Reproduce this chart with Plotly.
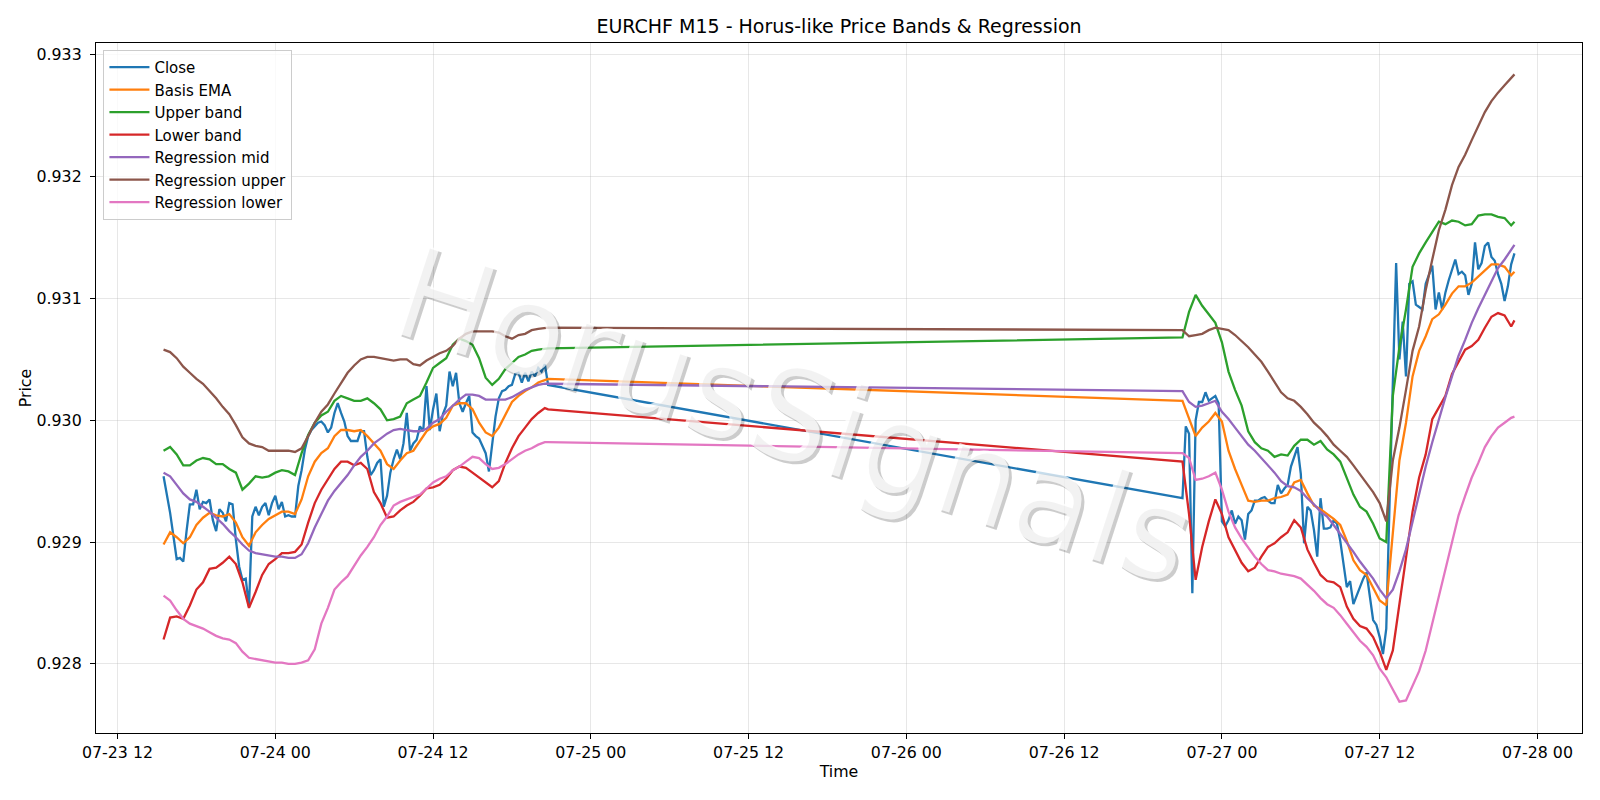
import pandas as pd
import plotly.graph_objects as go

# ---------------- data ----------------
S1_START = "2020-07-23 15:30"   # Thursday/Friday session (M15 bars)
S2_START = "2020-07-26 21:00"   # Sunday/Monday session (M15 bars)

close_s1 = [
    0.92954, 0.92940, 0.92924, 0.92905, 0.92886, 0.92887, 0.92884, 0.92909, 0.92931, 0.92931,
    0.92943, 0.92927, 0.92933, 0.92932, 0.92935, 0.92918, 0.92909, 0.92927, 0.92924, 0.92917,
    0.92932, 0.92931, 0.92902, 0.92880, 0.92869, 0.92870, 0.92847, 0.92921, 0.92929, 0.92922,
    0.92929, 0.92932, 0.92922, 0.92932, 0.92938, 0.92927, 0.92933, 0.92921, 0.92922, 0.92921,
    0.92921, 0.92946, 0.92959, 0.92976, 0.92987, 0.92992, 0.92995, 0.92998, 0.92999, 0.92996,
    0.92990, 0.92994, 0.93006, 0.93014, 0.93006, 0.92999, 0.92987, 0.92983, 0.92983, 0.92983,
    0.92991, 0.92991, 0.92970, 0.92955, 0.92959, 0.92965, 0.92968, 0.92929, 0.92938, 0.92957,
    0.92968, 0.92976, 0.92968, 0.92981, 0.93006, 0.92975, 0.92981, 0.92984, 0.92995, 0.92991,
    0.93028, 0.92992, 0.93009, 0.93022, 0.92991, 0.93005, 0.93012, 0.93040, 0.93028, 0.93039,
    0.93014, 0.93007, 0.93014, 0.93020, 0.92990, 0.92987, 0.92985, 0.92979, 0.92973, 0.92958,
    0.92981, 0.93003, 0.93018, 0.93024, 0.93025, 0.93028, 0.93029, 0.93038, 0.93039, 0.93031,
    0.93039, 0.93032, 0.93040, 0.93036, 0.93043, 0.93040, 0.93046, 0.93029,
]
close_s2 = [
    0.92936, 0.92995, 0.92989, 0.92858, 0.93000, 0.93015, 0.93015, 0.93023, 0.93016, 0.93018,
    0.93020, 0.93014, 0.92917, 0.92913, 0.92918, 0.92926, 0.92915, 0.92921, 0.92918, 0.92902,
    0.92923, 0.92926, 0.92934, 0.92934, 0.92936, 0.92937, 0.92934, 0.92932, 0.92932, 0.92947,
    0.92940, 0.92944, 0.92947, 0.92962, 0.92970, 0.92978, 0.92956, 0.92899, 0.92929, 0.92926,
    0.92910, 0.92888, 0.92936, 0.92911, 0.92911, 0.92912, 0.92918, 0.92915, 0.92901, 0.92880,
    0.92863, 0.92868, 0.92849, 0.92856, 0.92863, 0.92870, 0.92875, 0.92853, 0.92836, 0.92832,
    0.92822, 0.92808, 0.92829, 0.92932, 0.93036, 0.93129, 0.93050, 0.93081, 0.93036, 0.93112,
    0.93114, 0.93095, 0.93093, 0.93091, 0.93112, 0.93119, 0.93127, 0.93091, 0.93105, 0.93091,
    0.93105, 0.93115, 0.93124, 0.93132, 0.93120, 0.93122, 0.93119, 0.93103, 0.93112, 0.93146,
    0.93124, 0.93129, 0.93143, 0.93146, 0.93134, 0.93131, 0.93120, 0.93112, 0.93098, 0.93110,
    0.93128, 0.93137,
]

# smoother series, sampled every second bar (plus the last bar of each session)
ema_s1 = [
    0.92898, 0.92908, 0.92904, 0.92899, 0.92904, 0.92914, 0.92920, 0.92924, 0.92922, 0.92921,
    0.92923, 0.92916, 0.92904, 0.92897, 0.92908, 0.92914, 0.92919, 0.92922, 0.92925, 0.92925,
    0.92923, 0.92935, 0.92954, 0.92966, 0.92973, 0.92977, 0.92987, 0.92992, 0.92992, 0.92991,
    0.92992, 0.92987, 0.92981, 0.92975, 0.92964, 0.92960, 0.92967, 0.92973, 0.92975, 0.92983,
    0.92991, 0.92995, 0.92997, 0.93002, 0.93012, 0.93014, 0.93014, 0.93009, 0.92998, 0.92990,
    0.92987, 0.92994, 0.93005, 0.93015, 0.93020, 0.93024, 0.93027, 0.93031, 0.93033, 0.93034,
]
ema_s2 = [
    0.93016, 0.93001, 0.92987, 0.92994, 0.92999, 0.93006, 0.92999, 0.92975, 0.92960, 0.92947,
    0.92934, 0.92933, 0.92934, 0.92934, 0.92936, 0.92937, 0.92939, 0.92949, 0.92951, 0.92940,
    0.92930, 0.92927, 0.92923, 0.92919, 0.92914, 0.92901, 0.92885, 0.92877, 0.92873, 0.92863,
    0.92852, 0.92848, 0.92905, 0.92967, 0.92998, 0.93036, 0.93057, 0.93069, 0.93083, 0.93087,
    0.93095, 0.93104, 0.93110, 0.93110, 0.93113, 0.93118, 0.93123, 0.93128, 0.93128, 0.93126,
    0.93119, 0.93122,
]
upper_s1 = [
    0.92975, 0.92978, 0.92972, 0.92963, 0.92963, 0.92967, 0.92969, 0.92968, 0.92964, 0.92964,
    0.92960, 0.92957, 0.92943, 0.92948, 0.92954, 0.92953, 0.92954, 0.92957, 0.92959, 0.92958,
    0.92955, 0.92973, 0.92988, 0.92998, 0.93004, 0.93007, 0.93016, 0.93020, 0.93018, 0.93016,
    0.93016, 0.93018, 0.93014, 0.93009, 0.93000, 0.93001, 0.93003, 0.93014, 0.93017, 0.93020,
    0.93031, 0.93043, 0.93047, 0.93051, 0.93062, 0.93067, 0.93065, 0.93062, 0.93051, 0.93035,
    0.93029, 0.93034, 0.93042, 0.93047, 0.93052, 0.93054, 0.93057, 0.93058, 0.93059, 0.93059,
]
upper_s2 = [
    0.93068, 0.93089, 0.93103, 0.93094, 0.93087, 0.93080, 0.93064, 0.93040, 0.93025, 0.93012,
    0.92991, 0.92982, 0.92977, 0.92975, 0.92970, 0.92972, 0.92971, 0.92979, 0.92984, 0.92984,
    0.92980, 0.92983, 0.92976, 0.92972, 0.92966, 0.92953, 0.92939, 0.92929, 0.92925, 0.92915,
    0.92903, 0.92900, 0.93020, 0.93060, 0.93091, 0.93126, 0.93137, 0.93146, 0.93155, 0.93163,
    0.93161, 0.93164, 0.93163, 0.93160, 0.93161, 0.93168, 0.93169, 0.93169, 0.93167, 0.93166,
    0.93160, 0.93163,
]
lower_s1 = [
    0.92820, 0.92838, 0.92839, 0.92837, 0.92848, 0.92861, 0.92867, 0.92878, 0.92879, 0.92883,
    0.92888, 0.92882, 0.92867, 0.92846, 0.92859, 0.92873, 0.92882, 0.92886, 0.92891, 0.92891,
    0.92892, 0.92898, 0.92916, 0.92932, 0.92943, 0.92951, 0.92960, 0.92966, 0.92966, 0.92963,
    0.92965, 0.92960, 0.92941, 0.92932, 0.92920, 0.92921, 0.92926, 0.92930, 0.92933, 0.92938,
    0.92944, 0.92945, 0.92947, 0.92952, 0.92959, 0.92962, 0.92961, 0.92957, 0.92953, 0.92949,
    0.92945, 0.92950, 0.92965, 0.92977, 0.92987, 0.92994, 0.93001, 0.93006, 0.93010, 0.93009,
]
lower_s2 = [
    0.92966, 0.92923, 0.92869, 0.92896, 0.92917, 0.92935, 0.92923, 0.92904, 0.92893, 0.92883,
    0.92876, 0.92879, 0.92888, 0.92896, 0.92899, 0.92904, 0.92908, 0.92918, 0.92912, 0.92894,
    0.92883, 0.92873, 0.92868, 0.92867, 0.92863, 0.92847, 0.92837, 0.92831, 0.92829, 0.92822,
    0.92810, 0.92795, 0.92811, 0.92849, 0.92889, 0.92925, 0.92953, 0.92972, 0.93001, 0.93010,
    0.93020, 0.93038, 0.93048, 0.93058, 0.93061, 0.93066, 0.93076, 0.93085, 0.93088, 0.93086,
    0.93077, 0.93082,
]
reg_mid_s1 = [
    0.92957, 0.92954, 0.92947, 0.92940, 0.92935, 0.92933, 0.92929, 0.92925, 0.92920, 0.92915,
    0.92909, 0.92904, 0.92898, 0.92893, 0.92891, 0.92890, 0.92889, 0.92888, 0.92888, 0.92887,
    0.92887, 0.92890, 0.92899, 0.92912, 0.92923, 0.92934, 0.92942, 0.92949, 0.92955, 0.92963,
    0.92970, 0.92975, 0.92981, 0.92985, 0.92989, 0.92992, 0.92993, 0.92992, 0.92991, 0.92991,
    0.92993, 0.92998, 0.93001, 0.93007, 0.93012, 0.93017, 0.93021, 0.93021, 0.93020, 0.93017,
    0.93017, 0.93017, 0.93017, 0.93019, 0.93022, 0.93025, 0.93027, 0.93029, 0.93030, 0.93030,
]
reg_mid_s2 = [
    0.93024, 0.93015, 0.93011, 0.93012, 0.93014, 0.93016, 0.93007, 0.93001, 0.92994, 0.92987,
    0.92980, 0.92975, 0.92969, 0.92963, 0.92957, 0.92950, 0.92946, 0.92945, 0.92942, 0.92936,
    0.92931, 0.92925, 0.92921, 0.92914, 0.92907, 0.92900, 0.92892, 0.92884, 0.92877, 0.92870,
    0.92861, 0.92854, 0.92861, 0.92876, 0.92894, 0.92917, 0.92941, 0.92962, 0.92982, 0.93001,
    0.93019, 0.93036, 0.93053, 0.93066, 0.93080, 0.93092, 0.93103, 0.93114, 0.93125, 0.93132,
    0.93140, 0.93144,
]
reg_up_s1 = [
    0.93058, 0.93056, 0.93051, 0.93044, 0.93039, 0.93034, 0.93030, 0.93024, 0.93018, 0.93011,
    0.93005, 0.92996, 0.92986, 0.92981, 0.92979, 0.92978, 0.92975, 0.92975, 0.92975, 0.92975,
    0.92974, 0.92977, 0.92987, 0.92998, 0.93007, 0.93013, 0.93022, 0.93031, 0.93039, 0.93045,
    0.93050, 0.93052, 0.93052, 0.93051, 0.93050, 0.93049, 0.93050, 0.93050, 0.93046, 0.93045,
    0.93049, 0.93052, 0.93055, 0.93057, 0.93061, 0.93067, 0.93071, 0.93073, 0.93073, 0.93073,
    0.93073, 0.93072, 0.93069, 0.93067, 0.93070, 0.93071, 0.93074, 0.93075, 0.93076, 0.93076,
]
reg_up_s2 = [
    0.93074, 0.93069, 0.93070, 0.93071, 0.93074, 0.93076, 0.93075, 0.93074, 0.93070, 0.93065,
    0.93060, 0.93054, 0.93048, 0.93040, 0.93031, 0.93023, 0.93018, 0.93016, 0.93011, 0.93005,
    0.92998, 0.92993, 0.92987, 0.92980, 0.92975, 0.92970, 0.92963, 0.92956, 0.92949, 0.92941,
    0.92932, 0.92917, 0.92967, 0.92994, 0.93025, 0.93057, 0.93077, 0.93107, 0.93132, 0.93156,
    0.93173, 0.93193, 0.93208, 0.93218, 0.93230, 0.93242, 0.93253, 0.93262, 0.93269, 0.93275,
    0.93281, 0.93284,
]
reg_lo_s1 = [
    0.92856, 0.92852, 0.92844, 0.92837, 0.92833, 0.92831, 0.92829, 0.92826, 0.92823, 0.92821,
    0.92820, 0.92817, 0.92810, 0.92805, 0.92804, 0.92803, 0.92802, 0.92801, 0.92801, 0.92800,
    0.92800, 0.92801, 0.92803, 0.92812, 0.92833, 0.92846, 0.92861, 0.92867, 0.92872, 0.92881,
    0.92889, 0.92896, 0.92904, 0.92914, 0.92921, 0.92930, 0.92933, 0.92935, 0.92937, 0.92939,
    0.92944, 0.92949, 0.92952, 0.92954, 0.92959, 0.92962, 0.92966, 0.92970, 0.92969, 0.92964,
    0.92960, 0.92961, 0.92964, 0.92968, 0.92972, 0.92975, 0.92977, 0.92980, 0.92982, 0.92982,
]
reg_lo_s2 = [
    0.92973, 0.92969, 0.92951, 0.92952, 0.92954, 0.92957, 0.92943, 0.92925, 0.92912, 0.92903,
    0.92895, 0.92888, 0.92882, 0.92877, 0.92876, 0.92874, 0.92873, 0.92872, 0.92870, 0.92865,
    0.92860, 0.92854, 0.92849, 0.92846, 0.92840, 0.92833, 0.92826, 0.92819, 0.92814, 0.92807,
    0.92796, 0.92789, 0.92779, 0.92769, 0.92770, 0.92782, 0.92794, 0.92811, 0.92833, 0.92855,
    0.92879, 0.92901, 0.92922, 0.92938, 0.92953, 0.92965, 0.92978, 0.92987, 0.92994, 0.92998,
    0.93002, 0.93003,
]

SERIES = [
    ("Close", "#1f77b4"),
    ("Basis EMA", "#ff7f0e"),
    ("Upper band", "#2ca02c"),
    ("Lower band", "#d62728"),
    ("Regression mid", "#9467bd"),
    ("Regression upper", "#8c564b"),
    ("Regression lower", "#e377c2"),
]
Y_TICKS = [0.928, 0.929, 0.930, 0.931, 0.932, 0.933]
X_TICK_START = "2020-07-23 12:00"
X_TICK_END = "2020-07-28 00:00"

# ---------------- time axes ----------------
t1 = pd.date_range(S1_START, periods=len(close_s1), freq="15min")
t2 = pd.date_range(S2_START, periods=len(close_s2), freq="15min")
t_close = list(t1) + list(t2)
idx1 = list(range(0, len(t1), 2)) + [len(t1) - 1]
idx2 = list(range(0, len(t2), 2)) + [len(t2) - 1]
t_smooth = [t1[i] for i in idx1] + [t2[j] for j in idx2]

values = {
    "Close": close_s1 + close_s2,
    "Basis EMA": ema_s1 + ema_s2,
    "Upper band": upper_s1 + upper_s2,
    "Lower band": lower_s1 + lower_s2,
    "Regression mid": reg_mid_s1 + reg_mid_s2,
    "Regression upper": reg_up_s1 + reg_up_s2,
    "Regression lower": reg_lo_s1 + reg_lo_s2,
}

fig = go.Figure()
for name, color in SERIES:
    xs = t_close if name == "Close" else t_smooth
    ys = values[name]
    n = min(len(xs), len(ys))
    fig.add_trace(go.Scatter(x=xs[:n], y=ys[:n], mode="lines", name=name,
                             line=dict(color=color, width=2.3)))

# matplotlib-like 5% margins
all_y = [v for k in values for v in values[k]]
ymin, ymax = min(all_y), max(all_y)
pad_y = 0.05 * (ymax - ymin)
tmin, tmax = t_close[0], t_close[-1]
pad_t = 0.05 * (tmax - tmin)

FONT = "DejaVu Sans"
FS = 15.8
grid = "rgba(176,176,176,0.3)"
fig.update_layout(
    width=1600, height=800,
    margin=dict(l=96, r=18, t=43, b=67),
    paper_bgcolor="white", plot_bgcolor="white",
    font=dict(family=FONT, size=FS, color="black"),
    title=dict(text="EURCHF M15 - Horus-like Price Bands & Regression",
               x=0.5, xref="paper", xanchor="center",
               y=1 - 26.5 / 800, yref="container", yanchor="middle",
               font=dict(family=FONT, size=19, color="black")),
    showlegend=True,
    legend=dict(x=0.005, y=0.99, xanchor="left", yanchor="top",
                bgcolor="rgba(255,255,255,0.8)", bordercolor="#cccccc", borderwidth=1,
                font=dict(family=FONT, size=15.0), tracegroupgap=0, itemwidth=40),
    xaxis=dict(
        type="date",
        range=[tmin - pad_t, tmax + pad_t],
        tickvals=list(pd.date_range(X_TICK_START, X_TICK_END, freq="12h")),
        tickformat="%m-%d %H",
        ticks="outside", ticklen=5, tickwidth=1, tickcolor="black",
        showline=True, linecolor="black", linewidth=1.2, mirror=True,
        showgrid=True, gridcolor=grid, gridwidth=1, zeroline=False,
        tickfont=dict(family=FONT, size=FS), ticklabelstandoff=0,
        title=dict(text="Time", font=dict(family=FONT, size=FS), standoff=4),
    ),
    yaxis=dict(
        range=[ymin - pad_y, ymax + pad_y],
        tickvals=Y_TICKS, tickformat=".3f",
        ticks="outside", ticklen=5, tickwidth=1, tickcolor="black",
        showline=True, linecolor="black", linewidth=1.2, mirror=True,
        showgrid=True, gridcolor=grid, gridwidth=1, zeroline=False,
        tickfont=dict(family=FONT, size=FS), ticklabelstandoff=5,
        title=dict(text="Price", font=dict(family=FONT, size=FS), standoff=0),
    ),
)

# watermark: white face over a soft gray drop shadow
WM = "HorusSignals"
for color, dx, dy in [("rgba(0,0,0,0.2)", 3, -3), ("rgba(255,255,255,0.75)", 0, 0)]:
    fig.add_annotation(text=WM, x=0.47, y=0.46, xref="paper", yref="paper",
                       showarrow=False, textangle=18, xshift=dx, yshift=dy,
                       font=dict(family=FONT, size=127, color=color))

fig.write_html("out.html")
